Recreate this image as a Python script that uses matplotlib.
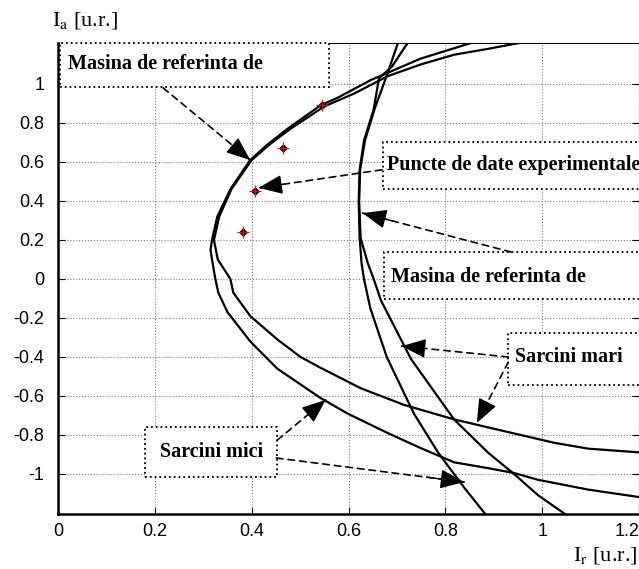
import numpy as np
import matplotlib
matplotlib.use('Agg')
from matplotlib import pyplot as plt
from matplotlib.patches import Rectangle

# reference machine curves (two loads)
ref_outer_x = [0.853, 0.749, 0.646, 0.578, 0.542, 0.474, 0.433, 0.397, 0.356, 0.329, 0.318, 0.315,
               0.318, 0.325, 0.331, 0.350, 0.397, 0.453, 0.542, 0.598, 0.681, 0.749, 0.818, 0.888,
               0.942, 0.992, 1.095, 1.205]
ref_outer_y = [1.21, 1.13, 1.02, 0.93, 0.89, 0.77, 0.69, 0.61, 0.46, 0.32, 0.20, 0.15,
               0.10, 0.00, -0.07, -0.17, -0.32, -0.46, -0.61, -0.69, -0.79, -0.867, -0.94, -0.97,
               -0.995, -1.03, -1.08, -1.12]

ref_inner_x = [0.952, 0.888, 0.818, 0.749, 0.681, 0.611, 0.550, 0.480, 0.437, 0.400, 0.358, 0.333,
               0.322, 0.330, 0.356, 0.362, 0.397, 0.453, 0.501, 0.542, 0.625, 0.714, 0.818, 0.921,
               1.025, 1.095, 1.205]
ref_inner_y = [1.21, 1.18, 1.15, 1.10, 1.04, 0.95, 0.885, 0.77, 0.69, 0.61, 0.46, 0.32,
               0.20, 0.10, 0.00, -0.07, -0.19, -0.31, -0.40, -0.455, -0.56, -0.645, -0.72, -0.78,
               -0.84, -0.87, -0.89]

# steep curves
st1_x = [0.722, 0.690, 0.663, 0.652, 0.632, 0.623, 0.621, 0.623, 0.627, 0.632, 0.645, 0.679,
         0.735, 0.785, 0.839, 0.884]
st1_y = [1.21, 1.09, 1.03, 0.87, 0.71, 0.56, 0.40, 0.21, 0.08, 0.00, -0.15, -0.40,
         -0.69, -0.89, -1.07, -1.21]

st2_x = [0.702, 0.680, 0.655, 0.634, 0.624, 0.622, 0.625, 0.640, 0.652, 0.667, 0.729, 0.818,
         0.888, 0.942, 0.992, 1.050]
st2_y = [1.21, 1.05, 0.88, 0.71, 0.56, 0.40, 0.21, 0.08, 0.00, -0.11, -0.41, -0.72,
         -0.89, -1.00, -1.11, -1.21]

# experimental points
exp_x = [0.383, 0.406, 0.464, 0.545]
exp_y = [0.24, 0.45, 0.67, 0.89]

xticks = [0, 0.2, 0.4, 0.6, 0.8, 1.0, 1.2]
xtick_labels = ['0', '0.2', '0.4', '0.6', '0.8', '1', '1.2']
yticks = [-1, -0.8, -0.6, -0.4, -0.2, 0, 0.2, 0.4, 0.6, 0.8, 1]
ytick_labels = ['-1', '-0.8', '-0.6', '-0.4', '-0.2', '0', '0.2', '0.4', '0.6', '0.8', '1']

fig = plt.figure(figsize=(6.39, 5.69), dpi=100)
ax = fig.add_axes([0.0908, 0.0967, 0.9092, 0.8277])

for xs, ys in [(ref_outer_x, ref_outer_y), (ref_inner_x, ref_inner_y),
               (st1_x, st1_y), (st2_x, st2_y)]:
    ax.plot(xs, ys, color='black', linewidth=1.6, zorder=3)

ax.plot(exp_x, exp_y, linestyle='none', marker='D', markersize=3.5, color='black', zorder=4)
ax.plot(exp_x, exp_y, linestyle='none', marker='+', markersize=8, color='red',
        markeredgewidth=0.8, zorder=4)

ax.set_xlim(0, 1.2)
ax.set_ylim(-1.205, 1.21)
ax.set_xticks(xticks)
ax.set_xticklabels(xtick_labels)
ax.set_yticks(yticks)
ax.set_yticklabels(ytick_labels)
ax.tick_params(direction='in', length=5, labelsize=13, right=True, top=False)
ax.tick_params(axis='x', pad=6.5)
ax.tick_params(axis='y', pad=10)
for lab in ax.get_xticklabels() + ax.get_yticklabels():
    lab.set_family('Liberation Sans')
ax.get_xticklabels()[-1].set_horizontalalignment('right')
ax.grid(True, color='gray', linestyle=':', linewidth=0.8)
for sp in ['left', 'bottom']:
    ax.spines[sp].set_linewidth(1.8)
ax.spines['top'].set_linewidth(0.8)

fig.text(0.081, 0.964, r'I$_{\mathrm{a}}$ [u.r.]', family='Liberation Serif', fontsize=16,
         ha='left', va='center', math_fontfamily='stix')
fig.text(0.997, 0.024, r'I$_{\mathrm{r}}$ [u.r.]', family='Liberation Serif', fontsize=16,
         ha='right', va='center', math_fontfamily='stix')

# text boxes (x0, y0, width, height) in data units
boxes = [
    ((0.004, 0.985, 0.555, 0.225), 'Masina de referinta de', (0.02, 1.10), 'left'),
    ((0.671, 0.462, 0.60, 0.241), 'Puncte de date experimentale', (0.679, 0.585), 'left'),
    ((0.673, -0.103, 0.60, 0.241), 'Masina de referinta de', (0.687, 0.01), 'left'),
    ((0.930, -0.544, 0.30, 0.267), 'Sarcini mari', (0.944, -0.40), 'left'),
    ((0.180, -1.015, 0.273, 0.256), 'Sarcini mici', (0.317, -0.885), 'center'),
]
for (x0, y0, w, h), txt, (tx, ty), ha in boxes:
    ax.add_patch(Rectangle((x0, y0), w, h, facecolor='white', edgecolor='black',
                           linestyle=':', linewidth=1.3, zorder=5, clip_on=False))
    ax.text(tx, ty, txt, family='Liberation Serif', fontweight='bold', fontsize=14.5,
            ha=ha, va='center', zorder=6)

arrows = [
    ((0.217, 0.98), (0.397, 0.61)),
    ((0.669, 0.56), (0.414, 0.467)),
    ((0.936, 0.138), (0.629, 0.338)),
    ((0.930, -0.40), (0.710, -0.344)),
    ((0.930, -0.426), (0.865, -0.738)),
    ((0.453, -0.826), (0.553, -0.62)),
    ((0.451, -0.918), (0.839, -1.041)),
]
for start, end in arrows:
    # dashed shaft
    ax.annotate('', xy=end, xytext=start, zorder=7,
                arrowprops=dict(arrowstyle='-', linestyle=(0, (4, 3)), color='black',
                                linewidth=1.2, shrinkA=0, shrinkB=0))
    # solid head
    mid = (start[0] + 0.8 * (end[0] - start[0]), start[1] + 0.8 * (end[1] - start[1]))
    ax.annotate('', xy=end, xytext=mid, zorder=7,
                arrowprops=dict(arrowstyle='-|>,head_length=0.75,head_width=0.3',
                                color='black', linewidth=1.0, mutation_scale=20,
                                shrinkA=0, shrinkB=0))

fig.savefig('out.png', dpi=100)
